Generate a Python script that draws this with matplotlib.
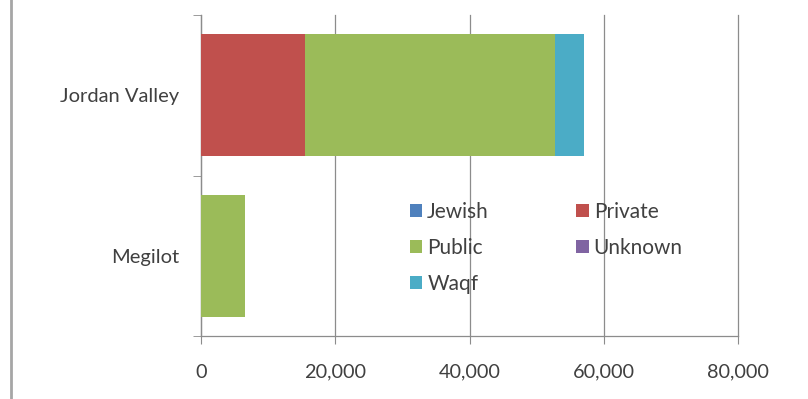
import matplotlib
matplotlib.use("Agg")
import matplotlib.pyplot as plt
from matplotlib.lines import Line2D
from matplotlib.ticker import FuncFormatter, MultipleLocator
import numpy as np

plt.rcParams["font.family"] = ["Lato", "DejaVu Sans"]

# ── Data ─────────────────────────────────────────────────────────────────────
regions = ["Megilot", "Jordan Valley"]
jewish = [0, 0]
private = [0, 15500]
public = [6500, 37300]
unknown = [0, 0]
waqf = [0, 4300]

series = [
    ("Jewish", jewish, "#4F81BD"),
    ("Private", private, "#C0504D"),
    ("Public", public, "#9BBB59"),
    ("Unknown", unknown, "#8064A2"),
    ("Waqf", waqf, "#4BACC6"),
]

TEXT = "#404040"
GRID = "#8c8c8c"

fig = plt.figure(figsize=(8.08, 3.99), dpi=100)
ax = fig.add_axes([201 / 808, 1 - 336 / 399, (738 - 201) / 808, (336 - 15) / 399])

y = np.arange(len(regions))
left = np.zeros(len(regions))
handles = {}
for name, vals, color in series:
    vals = np.array(vals, dtype=float)
    b = ax.barh(y, vals, left=left, height=0.76, color=color, label=name, zorder=3)
    handles[name] = b
    left += vals

ax.set_xlim(0, 80000)
ax.set_ylim(-0.5, 1.5)
ax.xaxis.set_major_locator(MultipleLocator(20000))
ax.xaxis.set_major_formatter(FuncFormatter(lambda v, p: f"{int(v):,}"))
ax.set_yticks(y)
ax.set_yticklabels(regions)
ax.set_yticks([-0.5, 0.5, 1.5], minor=True)

ax.grid(axis="x", color=GRID, linewidth=0.9, zorder=0)
for gl in ax.get_xgridlines():
    gl.set_clip_on(False)
for s in ["top", "right"]:
    ax.spines[s].set_visible(False)
for s in ["left", "bottom"]:
    ax.spines[s].set_color(GRID)
    ax.spines[s].set_linewidth(0.9)

ax.tick_params(axis="x", which="major", length=6, color=GRID, pad=14,
               labelsize=14.3, labelcolor=TEXT)
ax.tick_params(axis="y", which="major", length=0, pad=16,
               labelsize=14.5, labelcolor=TEXT)
ax.tick_params(axis="y", which="minor", length=6, color=GRID)

order = ["Jewish", "Public", "Waqf", "Private", "Unknown"]
ax.legend([handles[n] for n in order], order, ncol=2, frameon=False,
          loc="upper left", bbox_to_anchor=(0.389, 0.418),
          fontsize=15, labelcolor=TEXT, handlelength=0.58, handleheight=0.58,
          handletextpad=0.25, columnspacing=4.2, labelspacing=0.78,
          borderaxespad=0, borderpad=0)

# left chart border line
fig.add_artist(Line2D([11 / 808, 11 / 808], [0, 1], color="#a6a6a6", linewidth=2,
                      transform=fig.transFigure))

fig.savefig("out.png", dpi=100, facecolor="white")
